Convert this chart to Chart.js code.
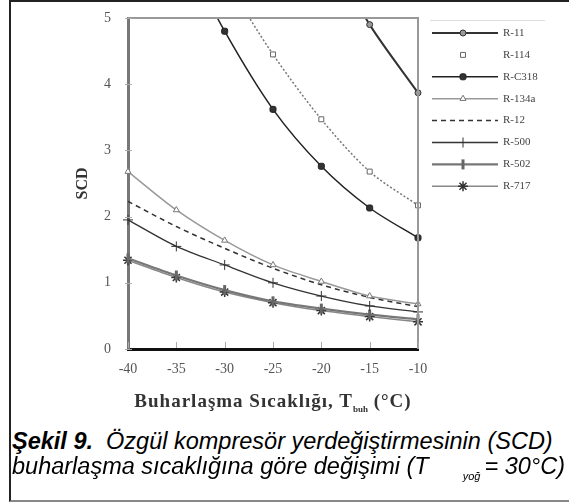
<!DOCTYPE html>
<html>
<head>
<meta charset="utf-8">
<script src="https://cdn.jsdelivr.net/npm/chart.js@4/dist/chart.umd.min.js"></script>
<style>
  body { margin: 0; background: #fff; width: 569px; height: 504px; overflow: hidden; }
  #frame { position: absolute; left: 9px; top: 0; width: 580px; height: 498px;
           border-left: 2px solid #222; border-top: 2px solid #222; border-bottom: 2px solid #888; }
  #chartBox { position: absolute; left: 0; top: 0; width: 569px; height: 425px; }
  .xtitle { position: absolute; left: 118px; width: 310px; top: 390px; text-align: center;
            font-family: "Liberation Serif", serif; font-weight: bold; font-size: 19px; letter-spacing: 1px;
            color: #333; white-space: nowrap; }
  .xtitle sub { font-size: 9px; letter-spacing: 0; }
  .cap { position: absolute; left: 12px; font-family: "Liberation Sans", Arial, sans-serif;
         font-style: italic; font-size: 23.5px; line-height: 26px; color: #000; white-space: nowrap; }
  .cap sub { font-size: 11px; margin-left: 34px; margin-right: 4px; }
</style>
</head>
<body>
<div id="chartBox"><canvas id="scdChart"></canvas></div>
<div class="xtitle">Buharlaşma Sıcaklığı, T<sub>buh</sub> (°C)</div>
<div class="cap" style="top:428px"><b>Şekil 9.</b>&nbsp; Özgül kompresör yerdeğiştirmesinin (SCD)</div>
<div class="cap" style="top:453px">buharlaşma sıcaklığına göre değişimi (T<sub>yoğ</sub>= 30°C)</div>
<div id="frame"></div>
<script>
// =============================================
// DATA
// =============================================
const temps   = [-40, -35, -30, -25, -20, -15, -10];
const yTicks  = [0, 1, 2, 3, 4, 5];

const r11   = [null, null, null, null, 6.2, 4.9, 3.87];
const r114  = [null, null, 5.6, 4.45, 3.47, 2.68, 2.17];
const rc318 = [null, 6.2, 4.8, 3.62, 2.76, 2.13, 1.68];
const r134a = [2.68, 2.1, 1.64, 1.27, 1.02, 0.8, 0.68];
const r12   = [2.23, 1.85, 1.52, 1.22, 0.97, 0.78, 0.64];
const r500  = [1.95, 1.55, 1.27, 1.0, 0.8, 0.65, 0.56];
const r502  = [1.37, 1.11, 0.89, 0.72, 0.61, 0.52, 0.45];
const r717  = [1.34, 1.08, 0.86, 0.7, 0.58, 0.49, 0.41];

const serif = '"Liberation Serif", "Times New Roman", serif';

// legend drawn on the right, from the dataset styles
const sideLegend = {
  id: 'sideLegend',
  afterDraw(chart) {
    const ctx = chart.ctx;
    ctx.save();
    ctx.strokeStyle = '#ddd';
    ctx.lineWidth = 1;
    ctx.beginPath(); ctx.moveTo(430, 20.5); ctx.lineTo(545, 20.5); ctx.stroke();
    chart.data.datasets.forEach((ds, i) => {
      const y = 33 + i * 21.9;
      if (ds.borderWidth > 0 && ds.legendLine !== false) {
        ctx.strokeStyle = ds.borderColor;
        ctx.lineWidth = ds.borderWidth;
        ctx.setLineDash(ds.borderDash || []);
        ctx.beginPath(); ctx.moveTo(432, y); ctx.lineTo(498, y); ctx.stroke();
        ctx.setLineDash([]);
      }
      if (ds.pointRadius > 0) {
        ctx.fillStyle = ds.pointBackgroundColor;
        ctx.strokeStyle = ds.pointBorderColor;
        ctx.lineWidth = ds.pointBorderWidth || 1;
        Chart.helpers.drawPoint(ctx, {
          pointStyle: ds.pointStyle, radius: ds.pointRadius,
          rotation: ds.pointRotation || 0, borderWidth: ds.pointBorderWidth || 1
        }, 463, y);
      }
      ctx.fillStyle = '#444';
      ctx.font = '11px ' + serif;
      ctx.textBaseline = 'middle';
      ctx.fillText(ds.label, 503, y);
    });
    ctx.restore();
  }
};

// frame of the plot and short inner ticks
const plotFrame = {
  id: 'plotFrame',
  afterDraw(chart) {
    const { ctx, chartArea: a, scales: { x, y } } = chart;
    ctx.save();
    ctx.strokeStyle = '#999';
    ctx.lineWidth = 2;
    ctx.beginPath();
    ctx.moveTo(a.left, a.top); ctx.lineTo(a.right, a.top); ctx.lineTo(a.right, a.bottom);
    ctx.stroke();
    ctx.strokeStyle = '#aaa';
    ctx.lineWidth = 1;
    ctx.beginPath();
    temps.forEach((t, i) => {
      const px = Math.round(x.getPixelForValue(i)) + 0.5;
      ctx.moveTo(px, a.bottom - 1); ctx.lineTo(px, a.bottom - 7);
    });
    yTicks.forEach(v => {
      const py = Math.round(y.getPixelForValue(v)) + 0.5;
      ctx.moveTo(a.left - 3, py); ctx.lineTo(a.left + 4, py);
    });
    ctx.stroke();
    ctx.restore();
  }
};

function series(label, data, style) {
  return Object.assign({
    label, data, fill: false, tension: 0.3, spanGaps: true,
    borderWidth: 1.5, pointRadius: 3, pointBorderWidth: 1
  }, style);
}

new Chart(document.getElementById('scdChart'), {
  type: 'line',
  data: {
    labels: temps.map(String),
    datasets: [
      series('R-11', r11, { borderColor: '#333', borderWidth: 2, pointStyle: 'circle',
        pointBackgroundColor: '#999', pointBorderColor: '#333' }),
      series('R-114', r114, { borderColor: '#777', borderDash: [2, 2], legendLine: false, pointStyle: 'rect',
        pointRadius: 3.5, pointBackgroundColor: '#fff', pointBorderColor: '#666' }),
      series('R-C318', rc318, { borderColor: '#222', pointStyle: 'rectRounded', pointRadius: 3.5,
        pointBackgroundColor: '#333', pointBorderColor: '#222' }),
      series('R-134a', r134a, { borderColor: '#999', pointStyle: 'triangle', pointRadius: 3.5,
        pointBackgroundColor: '#fff', pointBorderColor: '#777' }),
      series('R-12', r12, { borderColor: '#333', borderDash: [5, 4], pointRadius: 0 }),
      series('R-500', r500, { borderColor: '#333', borderWidth: 1.3, pointStyle: 'cross', pointRadius: 5,
        pointBackgroundColor: '#333', pointBorderColor: '#333' }),
      series('R-502', r502, { borderColor: '#777', borderWidth: 2.2, pointStyle: 'line', pointRotation: 90,
        pointRadius: 5, pointBorderWidth: 3, pointBackgroundColor: '#666', pointBorderColor: '#666' }),
      series('R-717', r717, { borderColor: '#888', pointStyle: 'star', pointRadius: 5, pointBorderWidth: 1.5,
        pointBackgroundColor: '#333', pointBorderColor: '#333' })
    ]
  },
  options: {
    responsive: true,
    maintainAspectRatio: false,
    animation: false,
    layout: { padding: { left: 0, right: 151, top: 18, bottom: 0 } },
    plugins: { legend: { display: false }, tooltip: { enabled: false } },
    scales: {
      x: {
        type: 'category',
        offset: false,
        grid: { drawOnChartArea: false, drawTicks: false },
        border: { color: '#111', width: 3 },
        ticks: { padding: 12, color: '#555', font: { family: serif, size: 14 } },
        afterFit: s => { s.height = 76; }
      },
      y: {
        min: 0,
        max: 5,
        grid: { drawOnChartArea: false, drawTicks: false },
        border: { color: '#777', width: 3 },
        ticks: { stepSize: 1, padding: 17, color: '#555', font: { family: serif, size: 14 } },
        title: { display: true, text: 'SCD', color: '#333', padding: { top: 73, bottom: 0 },
                 font: { family: serif, size: 16, weight: 'bold' } },
        afterFit: s => { s.width = 128; s.paddingTop = 0; s.paddingBottom = 0; }
      }
    }
  },
  plugins: [plotFrame, sideLegend]
});
</script>
</body>
</html>
